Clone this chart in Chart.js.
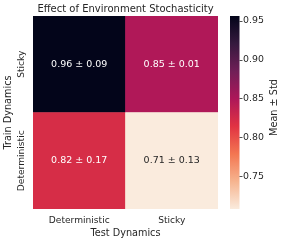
<!DOCTYPE html>
<html>
<head>
<meta charset="utf-8">
<script src="https://cdn.jsdelivr.net/npm/chart.js@4.4.0/dist/chart.umd.min.js"></script>
<style>
  html, body { margin: 0; padding: 0; background: #fff; }
</style>
</head>
<body>
<canvas id="heat" width="284" height="242"></canvas>
<script>
const testLabels = ['Deterministic', 'Sticky'];
const trainLabels = ['Deterministic', 'Sticky']; // bottom row first
const meanSticky = [0.956, 0.848];
const stdSticky = [0.09, 0.01];
const meanDet = [0.822, 0.708];
const stdDet = [0.17, 0.13];
const cbTicks = [0.75, 0.80, 0.85, 0.90, 0.95];

const FONT = 'DejaVu Sans';
const TXT = '#262626';

// seaborn "rocket" colormap stops
const rocketStops = ['#03051a', '#35193e', '#701f57', '#ad1759', '#e13342', '#f37651', '#f6b48f', '#faebdd'];
const hexRgb = h => [1, 3, 5].map(i => parseInt(h.slice(i, i + 2), 16));

function rocket(t) {
  t = Math.max(0, Math.min(1, t));
  const n = rocketStops.length - 1;
  const i = Math.min(n - 1, Math.floor(t * n));
  const f = t * n - i;
  const a = hexRgb(rocketStops[i]), b = hexRgb(rocketStops[i + 1]);
  return a.map((c, k) => Math.round(c + (b[k] - c) * f));
}

const allMeans = [...meanSticky, ...meanDet];
const vmin = Math.min(...allMeans);
const vmax = Math.max(...allMeans);

// reversed rocket: high values dark
const cellRgb = v => rocket(1 - (v - vmin) / (vmax - vmin));
const cellColor = v => `rgb(${cellRgb(v).join(',')})`;
const textColor = v => {
  const [r, g, b] = cellRgb(v).map(c => {
    c /= 255;
    return c <= 0.03928 ? c / 12.92 : Math.pow((c + 0.055) / 1.055, 2.4);
  });
  return (0.2126 * r + 0.7152 * g + 0.0722 * b) > 0.408 ? TXT : '#ffffff';
};

const heatPlugin = {
  id: 'heatExtras',
  afterDatasetsDraw(chart) {
    const ctx = chart.ctx;
    ctx.save();
    ctx.font = `9.5px "${FONT}"`;
    ctx.textAlign = 'center';
    ctx.textBaseline = 'middle';
    chart.data.datasets.forEach((ds, i) => {
      chart.getDatasetMeta(i).data.forEach((bar, j) => {
        const m = ds.means[j];
        ctx.fillStyle = textColor(m);
        ctx.fillText(`${m.toFixed(2)} ± ${ds.stds[j].toFixed(2)}`, bar.x, (bar.y + bar.base) / 2);
      });
    });
    ctx.restore();
  },
  afterDraw(chart) {
    const ctx = chart.ctx;
    const cb = chart.scales.cb;
    const y = chart.scales.y;
    ctx.save();

    // colorbar
    const x0 = cb.left + 12, w = 9.5;
    const top = cb.getPixelForValue(vmax), bot = cb.getPixelForValue(vmin);
    const grad = ctx.createLinearGradient(0, top, 0, bot);
    rocketStops.forEach((c, i) => grad.addColorStop(i / (rocketStops.length - 1), c));
    ctx.fillStyle = grad;
    ctx.fillRect(x0, top, w, bot - top);

    ctx.strokeStyle = TXT;
    ctx.lineWidth = 0.8;
    cbTicks.forEach(v => {
      const py = Math.round(cb.getPixelForValue(v)) + 0.5;
      ctx.beginPath();
      ctx.moveTo(x0 + w, py);
      ctx.lineTo(x0 + w + 3, py);
      ctx.stroke();
    });

    ctx.fillStyle = TXT;
    ctx.textAlign = 'center';
    ctx.textBaseline = 'middle';

    // colorbar label
    ctx.font = `9.7px "${FONT}"`;
    ctx.save();
    ctx.translate(274, (top + bot) / 2 - 5);
    ctx.rotate(-Math.PI / 2);
    ctx.fillText('Mean ± Std', 0, 0);
    ctx.restore();

    // rotated row labels
    ctx.font = `9.1px "${FONT}"`;
    trainLabels.forEach((lab, i) => {
      ctx.save();
      ctx.translate(21.5, y.getPixelForValue(i + 0.5));
      ctx.rotate(-Math.PI / 2);
      ctx.fillText(lab, 0, 0);
      ctx.restore();
    });
    ctx.restore();
  }
};

new Chart(document.getElementById('heat'), {
  type: 'bar',
  data: {
    labels: testLabels,
    datasets: [
      { label: trainLabels[0], data: [1, 1], means: meanDet, stds: stdDet, backgroundColor: meanDet.map(cellColor) },
      { label: trainLabels[1], data: [1, 1], means: meanSticky, stds: stdSticky, backgroundColor: meanSticky.map(cellColor) }
    ]
  },
  options: {
    responsive: false,
    animation: false,
    layout: { padding: 0 },
    datasets: { bar: { categoryPercentage: 1, barPercentage: 1, borderWidth: 0 } },
    plugins: {
      legend: { display: false },
      tooltip: { enabled: false },
      title: {
        display: true,
        text: 'Effect of Environment Stochasticity',
        fullSize: false,
        color: TXT,
        font: { family: FONT, size: 10, weight: 'normal' },
        padding: { top: 3, bottom: 1 }
      }
    },
    scales: {
      x: {
        stacked: true,
        grid: { display: false, drawTicks: false },
        border: { display: false },
        ticks: { color: TXT, font: { family: FONT, size: 9.1 }, padding: 6 },
        title: { display: true, text: 'Test Dynamics', color: TXT, font: { family: FONT, size: 9.7 }, padding: { top: 0, bottom: 3 } },
        afterFit: s => { s.height = 33; }
      },
      y: {
        stacked: true,
        min: 0,
        max: 2,
        grid: { display: false, drawTicks: false },
        border: { display: false },
        ticks: { display: false },
        title: { display: true, text: 'Train Dynamics', color: TXT, font: { family: FONT, size: 9.7 }, padding: { top: 3, bottom: 0 } },
        afterFit: s => { s.width = 33; }
      },
      cb: {
        type: 'linear',
        position: 'right',
        min: vmin,
        max: vmax,
        afterBuildTicks: s => { s.ticks = cbTicks.map(v => ({ value: v })); },
        ticks: { color: TXT, font: { family: FONT, size: 9.4 }, padding: 1, callback: v => v.toFixed(2) },
        grid: { display: true, drawOnChartArea: false, drawTicks: true, tickLength: 24, color: 'rgba(0,0,0,0)' },
        border: { display: false },
        afterFit: s => { s.width = 66; }
      }
    }
  },
  plugins: [heatPlugin]
});
</script>
</body>
</html>
